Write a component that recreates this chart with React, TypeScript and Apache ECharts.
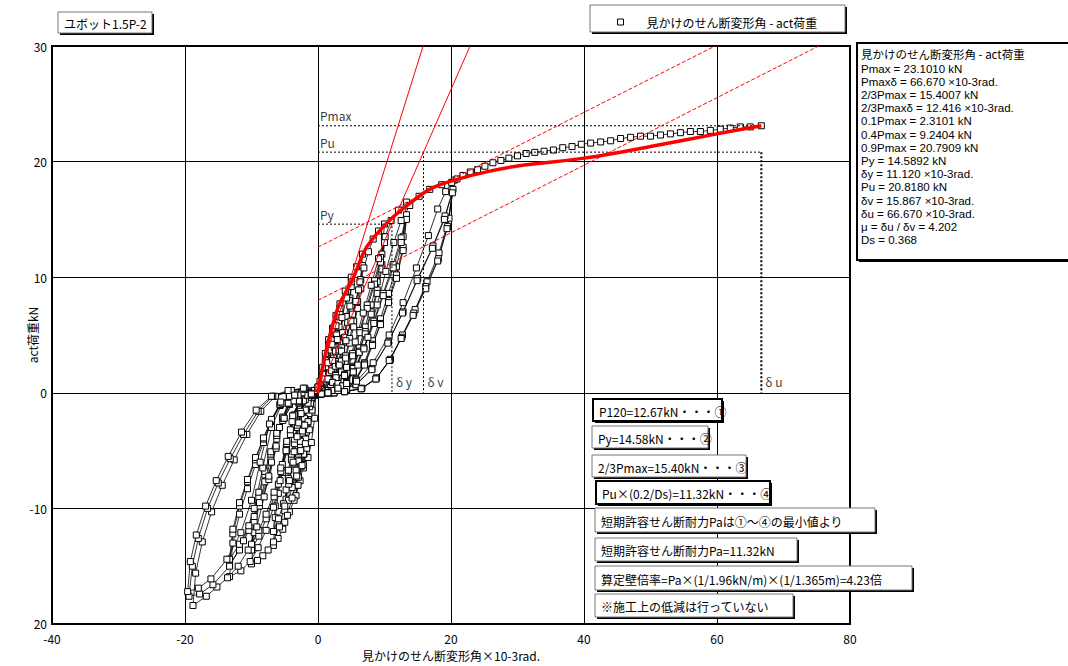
import React, { useEffect, useRef } from 'react';
import * as echarts from 'echarts';

type P = [number, number];

const SERIES_NAME = '見かけのせん断変形角 - act荷重';
const TITLE_TEXT = 'ユボット1.5P-2';
const X_NAME = '見かけのせん断変形角×10-3rad.';
const Y_NAME = 'act荷重kN';

const cycleA1: P[] = [
  [0,0],[0.3,1.0],[0.7,2.2],[1.1,3.4],[1.6,4.6],[2.2,5.6],
  [2.11,4.6],[1.96,3.7],[1.76,2.9],[1.56,2.2],[1.36,1.5],[1.17,0.9],[0.95,0.4],[0.7,0.1],
  [0.35,0],[0,-0.1],[-0.35,-0.1],
  [-0.5,-2.2],[-1.0,-4.3],[-1.5,-5.6],[-2.2,-6.5],
  [-2.11,-5.3],[-1.96,-4.3],[-1.76,-3.4],[-1.56,-2.5],[-1.36,-1.8],[-1.17,-1.0],[-0.95,-0.5],[-0.7,-0.1],
  [-0.35,0],[0,0.1],
];
const cycleB1: P[] = [
  [0.3,0.6],[0.7,1.6],[1.1,2.8],[1.6,4.2],[2.2,5.5],[2.7,6.7],[3.3,7.7],
  [3.17,6.3],[2.94,5.1],[2.64,4.0],[2.34,3.0],[2.05,2.1],[1.75,1.2],[1.42,0.5],[1.06,0.15],
  [0.6,0],[0.1,-0.1],[-0.5,-0.2],
  [-0.9,-1.5],[-1.3,-3.2],[-1.7,-4.8],[-2.2,-6.2],[-2.7,-7.6],[-3.3,-8.9],
  [-3.17,-7.3],[-2.94,-5.9],[-2.64,-4.6],[-2.34,-3.5],[-2.05,-2.4],[-1.75,-1.4],[-1.42,-0.6],[-1.06,-0.2],
  [-0.6,0],[-0.1,0.2],
];
const cycleB2: P[] = [
  [0.5,0.1],[0.92,0.3],[1.32,0.84],[1.72,1.75],[2.08,2.8],[2.44,3.9],[2.8,5.0],[3.1,6.1],[3.3,7.0],
  [3.17,5.7],[2.94,4.6],[2.64,3.6],[2.34,2.7],[2.05,1.9],[1.75,1.1],[1.42,0.5],[1.06,0.1],
  [0.6,0],[0,-0.1],[-0.5,-0.2],
  [-0.92,-0.4],[-1.25,-1.2],[-1.55,-2.6],[-1.85,-4.0],[-2.18,-5.3],[-2.57,-6.4],[-2.94,-7.3],[-3.3,-8.0],
  [-3.17,-6.6],[-2.94,-5.3],[-2.64,-4.2],[-2.34,-3.1],[-2.05,-2.2],[-1.75,-1.3],[-1.42,-0.6],[-1.06,-0.2],
  [-0.6,0],[-0.1,0.2],
];
const cycleC1: P[] = [
  [0.5,0.3],[1.0,1.2],[1.5,2.6],[2.1,4.2],[2.7,5.8],[3.3,7.3],[4.1,8.8],[5,10.0],
  [4.8,8.2],[4.45,6.6],[4.0,5.2],[3.55,3.9],[3.1,2.7],[2.65,1.6],[2.15,0.7],[1.6,0.2],
  [0.9,0],[0.2,-0.1],[-0.6,-0.2],
  [-1.1,-0.9],[-1.5,-2.5],[-1.9,-4.4],[-2.4,-6.3],[-3.0,-8.0],[-3.6,-9.3],[-4.3,-10.3],[-5,-11.2],
  [-4.8,-9.2],[-4.45,-7.4],[-4.0,-5.8],[-3.55,-4.4],[-3.1,-3.0],[-2.65,-1.8],[-2.15,-0.8],[-1.6,-0.2],
  [-0.9,0],[-0.2,0.2],
];
const cycleC2: P[] = [
  [0.75,0.1],[1.4,0.4],[2.0,1.1],[2.6,2.3],[3.15,3.7],[3.7,5.2],[4.25,6.6],[4.7,8.0],[5,9.2],
  [4.8,7.5],[4.45,6.1],[4.0,4.8],[3.55,3.6],[3.1,2.5],[2.65,1.5],[2.15,0.6],[1.6,0.2],
  [0.9,0],[0.2,-0.1],[-0.7,-0.2],
  [-1.4,-0.5],[-1.9,-1.5],[-2.35,-3.3],[-2.8,-5.1],[-3.3,-6.7],[-3.9,-8.2],[-4.45,-9.3],[-5,-10.2],
  [-4.8,-8.4],[-4.45,-6.7],[-4.0,-5.3],[-3.55,-4.0],[-3.1,-2.8],[-2.65,-1.6],[-2.15,-0.7],[-1.6,-0.2],
  [-0.9,0],[-0.2,0.2],
];
const cycleD1: P[] = [
  [0.8,0.3],[1.5,1.2],[2.2,2.8],[2.9,4.6],[3.6,6.5],[4.3,8.2],[5,9.6],[5.8,10.9],[6.7,12.0],
  [6.43,9.8],[5.96,7.9],[5.36,6.2],[4.76,4.7],[4.15,3.2],[3.55,1.9],[2.88,0.8],[2.14,0.25],
  [1.2,0],[0.3,-0.1],[-0.8,-0.2],
  [-1.5,-0.9],[-2.0,-2.8],[-2.6,-5.0],[-3.2,-7.2],[-3.9,-9.1],[-4.6,-10.6],[-5.3,-11.8],[-6.0,-12.6],[-6.7,-13.2],
  [-6.43,-10.8],[-5.96,-8.7],[-5.36,-6.9],[-4.76,-5.1],[-4.15,-3.6],[-3.55,-2.1],[-2.88,-0.9],[-2.14,-0.3],
  [-1.2,0],[-0.3,0.2],
];
const cycleD2: P[] = [
  [1.0,0.1],[1.9,0.45],[2.7,1.3],[3.5,2.75],[4.2,4.4],[4.95,6.2],[5.7,7.9],[6.3,9.6],[6.7,11.0],
  [6.43,9.0],[5.96,7.3],[5.36,5.7],[4.76,4.3],[4.15,3.0],[3.55,1.8],[2.88,0.8],[2.14,0.2],
  [1.2,0],[0.3,-0.1],[-0.9,-0.2],
  [-1.9,-0.6],[-2.55,-1.8],[-3.15,-3.8],[-3.75,-6.0],[-4.4,-7.9],[-5.2,-9.6],[-5.95,-10.9],[-6.7,-12.0],
  [-6.43,-9.8],[-5.96,-7.9],[-5.36,-6.2],[-4.76,-4.7],[-4.15,-3.2],[-3.55,-1.9],[-2.88,-0.8],[-2.14,-0.25],
  [-1.2,0],[-0.3,0.2],
];
const cycleE1: P[] = [
  [1.2,0.2],[2.2,0.9],[3.2,2.4],[4.2,4.5],[5.2,6.8],[6.1,8.9],[6.9,10.8],[7.6,12.2],[8.3,13.3],[9.1,14.0],[10,14.6],
  [9.6,12.0],[8.9,9.6],[8.0,7.6],[7.1,5.7],[6.2,3.9],[5.3,2.3],[4.3,1.0],[3.2,0.3],
  [1.8,0],[0.4,-0.1],[-1.2,-0.2],
  [-2.2,-0.7],[-2.9,-2.6],[-3.6,-5.1],[-4.3,-7.6],[-5.0,-9.8],[-5.8,-11.6],[-6.7,-12.9],[-7.5,-13.6],[-8.3,-14.1],[-9.1,-14.5],[-10,-14.8],
  [-9.6,-12.1],[-8.9,-9.8],[-8.0,-7.7],[-7.1,-5.8],[-6.2,-4.0],[-5.3,-2.4],[-4.3,-1.0],[-3.2,-0.3],
  [-1.8,0],[-0.4,0.2],
];
const cycleE2: P[] = [
  [1.5,0.15],[2.8,0.55],[4.0,1.6],[5.2,3.4],[6.3,5.4],[7.4,7.6],[8.5,9.7],[9.4,11.7],[10,13.5],
  [9.6,11.1],[8.9,8.9],[8.0,7.0],[7.1,5.3],[6.2,3.6],[5.3,2.2],[4.3,0.9],[3.2,0.3],
  [1.8,0],[0.4,-0.1],[-1.3,-0.2],
  [-2.8,-0.7],[-3.8,-2.0],[-4.7,-4.4],[-5.6,-6.8],[-6.6,-9.0],[-7.8,-10.9],[-8.9,-12.4],[-10,-13.6],
  [-9.6,-11.2],[-8.9,-9.0],[-8.0,-7.1],[-7.1,-5.3],[-6.2,-3.7],[-5.3,-2.2],[-4.3,-1.0],[-3.2,-0.3],
  [-1.8,0],[-0.4,0.2],
];
const cycleE3: P[] = [
  [1.5,0.15],[2.8,0.5],[4.0,1.5],[5.2,3.2],[6.3,5.2],[7.4,7.3],[8.5,9.4],[9.4,11.3],[10,13.0],
  [9.6,10.7],[8.9,8.6],[8.0,6.8],[7.1,5.1],[6.2,3.5],[5.3,2.1],[4.3,0.9],[3.2,0.3],
  [1.8,0],[0.4,-0.1],[-1.3,-0.2],
  [-2.8,-0.7],[-3.8,-2.0],[-4.7,-4.2],[-5.6,-6.5],[-6.6,-8.6],[-7.8,-10.5],[-8.9,-11.9],[-10,-13.1],
  [-9.6,-10.7],[-8.9,-8.6],[-8.0,-6.8],[-7.1,-5.1],[-6.2,-3.5],[-5.3,-2.1],[-4.3,-0.9],[-3.2,-0.3],
  [-1.8,0],[-0.4,0.2],
];
const cycleF1: P[] = [
  [1.6,0.2],[3.0,0.8],[4.3,2.2],[5.6,4.4],[6.8,6.9],[8.0,9.3],[9.1,11.6],[10.1,13.5],[11.0,14.9],[12.1,15.8],[13.3,16.5],
  [12.8,13.5],[11.8,10.9],[10.6,8.6],[9.4,6.4],[8.2,4.5],[7.0,2.6],[5.7,1.2],[4.3,0.3],
  [2.4,0],[0.5,-0.1],[-1.5,-0.2],
  [-2.9,-0.7],[-3.9,-2.5],[-4.8,-5.0],[-5.7,-7.6],[-6.7,-9.9],[-7.8,-11.9],[-9.0,-13.4],[-10.2,-14.6],[-11.6,-15.4],[-13.3,-15.9],
  [-12.8,-13.0],[-11.8,-10.5],[-10.6,-8.3],[-9.4,-6.2],[-8.2,-4.3],[-7.0,-2.5],[-5.7,-1.1],[-4.3,-0.3],
  [-2.4,0],[-0.5,0.2],
];
const cycleF2: P[] = [
  [2.0,0.15],[3.7,0.6],[5.3,1.8],[6.9,3.9],[8.4,6.2],[9.8,8.6],[11.3,11.1],[12.5,13.4],[13.3,15.4],
  [12.8,12.6],[11.8,10.2],[10.6,8.0],[9.4,6.0],[8.2,4.2],[7.0,2.5],[5.7,1.1],[4.3,0.3],
  [2.4,0],[0.5,-0.1],[-1.6,-0.2],
  [-3.7,-0.7],[-5.1,-2.2],[-6.3,-4.8],[-7.4,-7.5],[-8.8,-9.8],[-10.4,-11.9],[-11.8,-13.6],[-13.3,-14.9],
  [-12.8,-12.2],[-11.8,-9.8],[-10.6,-7.7],[-9.4,-5.8],[-8.2,-4.0],[-7.0,-2.4],[-5.7,-1.0],[-4.3,-0.3],
  [-2.4,0],[-0.5,0.2],
];
const cycleF3: P[] = [
  [2.0,0.15],[3.7,0.6],[5.3,1.8],[6.9,3.8],[8.4,6.0],[9.8,8.4],[11.3,10.8],[12.5,13.0],[13.3,15.0],
  [12.8,12.3],[11.8,9.9],[10.6,7.8],[9.4,5.9],[8.2,4.1],[7.0,2.4],[5.7,1.1],[4.3,0.3],
  [2.4,0],[0.5,-0.1],[-1.6,-0.2],
  [-3.7,-0.7],[-5.1,-2.2],[-6.3,-4.6],[-7.4,-7.2],[-8.8,-9.5],[-10.4,-11.5],[-11.8,-13.1],[-13.3,-14.4],
  [-12.8,-11.8],[-11.8,-9.5],[-10.6,-7.5],[-9.4,-5.6],[-8.2,-3.9],[-7.0,-2.3],[-5.7,-1.0],[-4.3,-0.3],
  [-2.4,0],[-0.5,0.2],
];
const cycleG1: P[] = [
  [2.4,0.2],[4.3,0.8],[6.0,2.4],[7.5,4.8],[8.9,7.6],[10.2,10.5],[11.4,13.0],[12.5,14.9],[13.8,16.2],[15.2,17.0],[16.8,17.6],[18.6,18.0],[20.5,18.4],
  [19.7,15.1],[18.2,12.1],[16.4,9.6],[14.6,7.2],[12.7,5.0],[10.9,2.9],[8.8,1.3],[6.6,0.4],
  [4.0,0.1],[1.5,0],[-1.0,-0.1],[-3.0,-0.2],
  [-4.5,-0.9],[-5.8,-3.0],[-7.0,-6.0],[-8.1,-9.0],[-9.2,-11.6],[-10.5,-13.6],[-12.0,-15.0],[-13.6,-16.0],[-15.2,-16.8],[-16.8,-17.6],[-18.8,-18.4],
  [-18.4,-15.6],[-17.4,-12.9],[-16.0,-10.3],[-14.4,-8.0],[-12.6,-5.8],[-10.7,-3.6],[-8.6,-1.6],[-6.4,-0.3],
  [-4.0,0.2],[-2.0,0.3],[0,0.4],
];
const cycleG2: P[] = [
  [3.0,0.2],[5.7,0.7],[8.1,2.1],[10.6,4.4],[12.8,7.0],[15.0,9.9],[17.3,12.7],[19.1,15.3],[20.3,17.6],
  [19.5,14.4],[18.1,11.6],[16.2,9.2],[14.4,6.9],[12.6,4.8],[10.8,2.8],[8.7,1.2],[6.5,0.35],
  [4.0,0.1],[1.5,0],[-1.0,-0.1],[-3.5,-0.2],
  [-5.4,-0.9],[-7.0,-3.0],[-8.3,-6.5],[-9.6,-10.0],[-11.2,-12.8],[-13.3,-15.0],[-15.8,-16.6],[-17.8,-17.4],[-19.4,-17.6],
  [-18.9,-15.0],[-18.0,-12.6],[-16.6,-10.0],[-15.0,-7.8],[-13.2,-5.7],[-11.2,-3.6],[-9.0,-1.6],[-6.8,-0.3],
  [-4.0,0.2],[-2.0,0.4],[0,0.5],
];
const cycleG3: P[] = [
  [3.0,0.2],[5.7,0.7],[8.1,2.0],[10.5,4.3],[12.7,6.9],[14.9,9.7],[17.2,12.5],[19.0,15.0],[20.2,17.3],
  [19.4,14.2],[18.0,11.4],[16.2,9.0],[14.3,6.7],[12.5,4.7],[10.7,2.8],[8.7,1.2],[6.5,0.35],
  [4.0,0.1],[1.5,0],[-1.0,-0.1],[-3.5,-0.2],
  [-5.6,-0.8],[-7.3,-2.7],[-8.7,-6.0],[-10.0,-9.3],[-11.6,-12.1],[-13.7,-14.4],[-16.1,-16.1],[-18.0,-16.9],[-19.6,-17.2],
  [-19.2,-14.6],[-18.3,-12.3],[-16.9,-9.8],[-15.3,-7.6],[-13.5,-5.5],[-11.5,-3.4],[-9.3,-1.5],[-7.0,-0.3],
  [-4.5,0.2],[-2.2,0.4],[0,0.5],
];
const finalLoad: P[] = [
  [3.0,0.4],[5.8,1.0],[8.3,2.6],[10.7,5.0],[12.8,7.8],[14.8,10.8],[16.6,13.6],[18.0,15.9],[19.2,17.4],[20.1,18.2],
  [20.9,18.5],[21.8,18.8],[22.9,19.1],[24.0,19.3],[25.1,19.6],[26.3,19.9],[27.5,20.1],[28.7,20.3],[30.0,20.5],
  [31.3,20.7],[32.6,20.8],[34.0,20.9],[35.4,21.0],[36.8,21.2],[38.2,21.3],[39.6,21.5],[41.0,21.6],[42.5,21.7],
  [44.0,21.8],[45.5,22.0],[47.0,22.1],[48.5,22.2],[50.0,22.2],[51.5,22.3],[53.0,22.4],[54.5,22.5],[56.0,22.6],
  [57.5,22.6],[59.0,22.7],[60.5,22.8],[62.0,22.9],[63.5,23.0],[65.0,23.0],[66.67,23.1],
];

const envelopeRed: P[] = [
  [0,0],[0.8,2.5],[1.6,4.6],[3.1,7.5],[5.2,9.8],[7.3,12.6],[10.9,15.0],[14.5,16.7],[17.1,17.7],
  [20.5,18.4],[26,19.2],[31,19.7],[40,20.3],[50,21.3],[60,22.4],[66.67,23.1],
];
const lineInitial: P[] = [[-0.5,0],[15.8,30]];
const lineOrigin: P[] = [[0,0],[22.87,30]];
const lineTangent: P[] = [[0,12.6],[59.7,30]];
const lineSecant: P[] = [[0,8.0],[75.3,30]];

const pmaxGuide: P[] = [[0,23.101],[66.67,23.101]];
const puGuide: P[] = [[0,20.818],[66.67,20.818]];
const duGuide: P[] = [[66.67,20.818],[66.67,0]];
const pyGuide: P[] = [[0,14.589],[11.12,14.589],[11.12,0]];
const dvGuide: P[] = [[15.867,20.818],[15.867,0]];

const levelLabels: [number, number, string][] = [[0,23.101,'Pmax'],[0,20.818,'Pu'],[0,14.589,'Py']];
const deltaLabels: [number, number, string][] = [[11.12,0,'δ y'],[15.867,0,'δ v'],[66.67,0,'δ u']];

const infoLines = [
  '見かけのせん断変形角 - act荷重',
  'Pmax = 23.1010 kN',
  'Pmaxδ = 66.670 ×10-3rad.',
  '2/3Pmax = 15.4007 kN',
  '2/3Pmaxδ = 12.416 ×10-3rad.',
  '0.1Pmax = 2.3101 kN',
  '0.4Pmax = 9.2404 kN',
  '0.9Pmax = 20.7909 kN',
  'Py = 14.5892 kN',
  'δy = 11.120 ×10-3rad.',
  'Pu = 20.8180 kN',
  'δv = 15.867 ×10-3rad.',
  'δu = 66.670 ×10-3rad.',
  'μ = δu / δv = 4.202',
  'Ds = 0.368',
];

const noteTexts = [
  'P120=12.67kN・・・①',
  'Py=14.58kN・・・②',
  '2/3Pmax=15.40kN・・・③',
  'Pu×(0.2/Ds)=11.32kN・・・④',
  '短期許容せん断耐力Paは①～④の最小値より',
  '短期許容せん断耐力Pa=11.32kN',
  '算定壁倍率=Pa×(1/1.96kN/m)×(1/1.365m)=4.23倍',
  '※施工上の低減は行っていない',
];

const FONT = '"Noto Sans CJK JP", "Noto Sans", sans-serif';
const LATIN_FONT = '"Liberation Sans", "Noto Sans CJK JP", sans-serif';

const noteLayout = [
  { x: 593, y: 399, w: 129, h: 22, thick: true },
  { x: 592, y: 426, w: 116, h: 22, thick: false },
  { x: 592, y: 455, w: 154, h: 22, thick: false },
  { x: 596, y: 481, w: 174, h: 23, thick: true },
  { x: 595, y: 508, w: 280, h: 24, thick: false },
  { x: 595, y: 538, w: 202, h: 23, thick: false },
  { x: 595, y: 566, w: 317, h: 24, thick: false },
  { x: 595, y: 594, w: 198, h: 23, thick: false },
];

function box(x: number, y: number, w: number, h: number, thick: boolean): any[] {
  return [
    { type: 'rect', z: 100, shape: { x: x + 2, y: y + 2, width: w, height: h }, style: { fill: '#000' } },
    {
      type: 'rect', z: 101, shape: { x, y, width: w, height: h },
      style: { fill: '#fff', stroke: thick ? '#000' : '#777', lineWidth: thick ? 2 : 1 },
    },
  ];
}

function txt(x: number, y: number, text: string, size = 12, family = FONT): any {
  return {
    type: 'text', z: 102, x, y,
    style: { text, fill: '#000', fontSize: size, fontFamily: family, verticalAlign: 'middle', align: 'left' },
  };
}

export default function App() {
  const ref = useRef<HTMLDivElement>(null);
  useEffect(() => {
    if (!ref.current) return;
    const chart = echarts.init(ref.current, undefined, { renderer: 'svg' });
    const hysteresis: P[] = [
      ...cycleA1, ...cycleB1, ...cycleB2, ...cycleC1, ...cycleC2, ...cycleD1, ...cycleD2,
      ...cycleE1, ...cycleE2, ...cycleE3, ...cycleF1, ...cycleF2, ...cycleF3,
      ...cycleG1, ...cycleG2, ...cycleG3, ...finalLoad,
    ];
    const graphics: any[] = [];
    graphics.push(...box(58, 12, 94, 21, false), txt(64, 23, TITLE_TEXT));
    graphics.push(...box(590, 5, 255, 27, false));
    graphics.push(...box(857, 43, 212, 217, true));
    infoLines.forEach((t, i) => {
      if (i === 0) graphics.push(txt(861, 53.5, t, 11.5));
      else graphics.push(txt(861, 55.3 + i * 13.2, t, 11.5, LATIN_FONT));
    });
    noteLayout.forEach((b, i) => {
      graphics.push(...box(b.x, b.y, b.w, b.h, b.thick), txt(b.x + 6, b.y + b.h / 2 + 1, noteTexts[i]));
    });

    const dotted = (data: P[], width = 1) => ({
      type: 'line', data, symbol: 'none', silent: true, z: 4,
      lineStyle: { color: '#000', width, type: [2, 2] },
    });
    const redThin = (data: P[], dashed: boolean) => ({
      type: 'line', data, symbol: 'none', silent: true, z: 5,
      lineStyle: { color: '#ff0000', width: 1, type: dashed ? [4, 2] : 'solid' },
    });

    chart.setOption({
      animation: false,
      backgroundColor: '#fff',
      textStyle: { fontFamily: FONT },
      grid: { left: 52, right: 218, top: 46, bottom: 40, show: true, borderColor: '#000', borderWidth: 2 },
      legend: {
        data: [{ name: SERIES_NAME, icon: 'rect', itemStyle: { color: '#fff', borderColor: '#000', borderWidth: 1 } }],
        left: 612, top: 11, itemWidth: 6, itemHeight: 6, selectedMode: false, z: 110,
        textStyle: { fontSize: 12, color: '#000', fontFamily: FONT, padding: [0, 0, 0, 18] },
      },
      xAxis: {
        type: 'value', min: -40, max: 80, interval: 20,
        name: X_NAME, nameLocation: 'middle', nameGap: 25,
        nameTextStyle: { fontSize: 12, color: '#000', fontFamily: FONT },
        axisLine: { show: false }, axisTick: { show: false },
        axisLabel: { color: '#000', fontSize: 12, margin: 8, fontFamily: FONT },
        splitLine: { show: true, lineStyle: { color: '#000', width: 1 } },
      },
      yAxis: {
        type: 'value', min: -20, max: 30, interval: 10,
        name: Y_NAME, nameLocation: 'middle', nameGap: 14, nameRotate: 90,
        nameMoveOverlap: false,
        nameTextStyle: { fontSize: 12, color: '#000', fontFamily: FONT },
        axisLine: { show: false }, axisTick: { show: false },
        axisLabel: {
          color: '#000', fontSize: 12, margin: 5, fontFamily: FONT,
          formatter: (v: number) => (v === -20 ? '20' : String(v)),
        },
        splitLine: { show: true, lineStyle: { color: '#000', width: 1 } },
      },
      series: [
        {
          name: SERIES_NAME, type: 'line', data: hysteresis, z: 3,
          symbol: 'rect', symbolSize: 6,
          itemStyle: { color: '#fff', borderColor: '#000', borderWidth: 1 },
          lineStyle: { color: '#000', width: 0.8 },
        },
        dotted(pmaxGuide), dotted(puGuide), dotted(duGuide, 2), dotted(pyGuide), dotted(dvGuide),
        redThin(lineInitial, false), redThin(lineOrigin, false),
        redThin(lineTangent, true), redThin(lineSecant, true),
        {
          type: 'line', data: envelopeRed, symbol: 'none', smooth: 0.3, z: 6, silent: true,
          lineStyle: { color: '#ff0000', width: 3.5 },
        },
        {
          type: 'scatter', data: levelLabels, symbolSize: 0, silent: true, z: 7,
          label: { show: true, position: [2, -16], color: '#000', fontSize: 12, fontFamily: FONT,
            formatter: (p: any) => p.data[2] },
        },
        {
          type: 'scatter', data: deltaLabels, symbolSize: 0, silent: true, z: 7,
          label: { show: true, position: [4, -17], color: '#000', fontSize: 12, fontFamily: FONT,
            formatter: (p: any) => p.data[2] },
        },
      ],
      graphic: graphics,
    });
    return () => chart.dispose();
  }, []);
  return <div ref={ref} style={{ position: 'fixed', left: 0, top: 0, width: 1068, height: 666 }} />;
}
